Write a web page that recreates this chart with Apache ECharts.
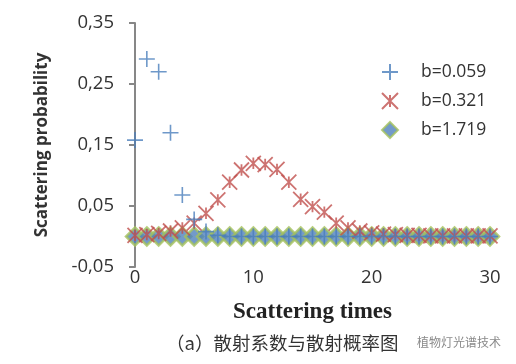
<!DOCTYPE html>
<html><head><meta charset="utf-8">
<script src="https://cdn.jsdelivr.net/npm/echarts@6/dist/echarts.min.js"></script>
<style>html,body{margin:0;padding:0;background:#fff}#c{width:516px;height:364px}</style>
</head><body><div id="c"></div>
<script>
const scatteringTimes = [0,1,2,3,4,5,6,7,8,9,10,11,12,13,14,15,16,17,18,19,20,21,22,23,24,25,26,27,28,29,30];
const seriesNames = ['b=0.059','b=0.321','b=1.719'];
const probB0059 = [0.158,0.291,0.270,0.170,0.068,0.028,0.008,0.002,0,0,0,0,0,0,0,0,0,0,0,0,0,0,0,0,0,0,0,0,0,0,0];
const probB0321 = [0.002,0.003,0.005,0.009,0.014,0.022,0.038,0.060,0.089,0.109,0.120,0.118,0.110,0.089,0.061,0.049,0.040,0.022,0.014,0.009,0.006,0.004,0.003,0.002,0.002,0.001,0.001,0.001,0.001,0.001,0.001];
const probB1719 = [0,0,0,0,0,0,0,0,0,0,0,0,0,0,0,0,0,0,0,0,0,0,0,0,0,0,0,0,0,0,0];
const yTicks = {min:-0.05, max:0.35, interval:0.1};
const xTicks = {min:0, max:30, interval:10};

const pair = arr => scatteringTimes.map((x,i)=>[x,arr[i]]);
const plusPath = 'path://M0,50L100,50M50,0L50,100';
const starPath = 'path://M0,0L100,100M100,0L0,100M50,12L50,88';
const diamondPath = 'path://M50,0L100,50L50,100L0,50Z';

const chart = echarts.init(document.getElementById('c'), null, {renderer:'canvas'});
chart.setOption({
  animation:false,
  grid:{left:135,right:26,top:23,bottom:97},
  legend:{
    orient:'vertical', left:376, top:58, itemGap:11, itemWidth:16, itemHeight:16,
    textStyle:{fontSize:17.5,color:'#333',fontFamily:'Open Sans',padding:[0,0,0,18]},
    data:seriesNames
  },
  xAxis:{
    type:'value', min:xTicks.min, max:xTicks.max, interval:xTicks.interval,
    axisLine:{show:false}, axisTick:{show:false}, splitLine:{show:false},
    axisLabel:{fontSize:18.5,color:'#333',fontFamily:'Open Sans',margin:1},
    name:'Scattering times', nameLocation:'middle', nameGap:34,
    nameTextStyle:{fontFamily:'Liberation Serif',fontWeight:'bold',fontSize:23,color:'#222'}
  },
  yAxis:{
    type:'value', min:yTicks.min, max:yTicks.max, interval:yTicks.interval,
    axisLine:{show:true,lineStyle:{color:'#878787',width:2}},
    axisTick:{show:true,length:6,lineStyle:{color:'#878787',width:2}},
    splitLine:{show:false},
    axisLabel:{fontSize:18.5,color:'#333',fontFamily:'Open Sans',margin:21,
      formatter:v=>v.toFixed(2).replace('.',',')},
    name:'Scattering probability', nameLocation:'middle', nameGap:84,
    nameTextStyle:{fontFamily:'Open Sans',fontWeight:'bold',fontSize:17,color:'#333'}
  },
  series:[
    {name:seriesNames[2], type:'scatter', data:pair(probB1719), symbol:diamondPath, symbolSize:[18,18], z:1,
     itemStyle:{color:'#4f81bd',borderColor:'#a5c25c',borderWidth:2.5}},
    {name:seriesNames[1], type:'scatter', data:pair(probB0321), symbol:starPath, symbolSize:15, z:2,
     itemStyle:{color:'rgba(0,0,0,0)',borderColor:'#c0504d',borderWidth:1.8}},
    {name:seriesNames[0], type:'scatter', data:pair(probB0059), symbol:plusPath, symbolSize:16, z:3,
     itemStyle:{color:'rgba(0,0,0,0)',borderColor:'#4a7ebb',borderWidth:1.6}}
  ],
  graphic:[
    {type:'text', left:166, top:334, style:{text:'（a）散射系数与散射概率图', font:'18.5px "Noto Sans CJK SC"', fill:'#333'}},
    {type:'text', left:417, top:336, style:{text:'植物灯光谱技术', font:'12px "Noto Sans CJK SC"', fill:'#8a8a8a'}}
  ]
});
</script></body></html>
